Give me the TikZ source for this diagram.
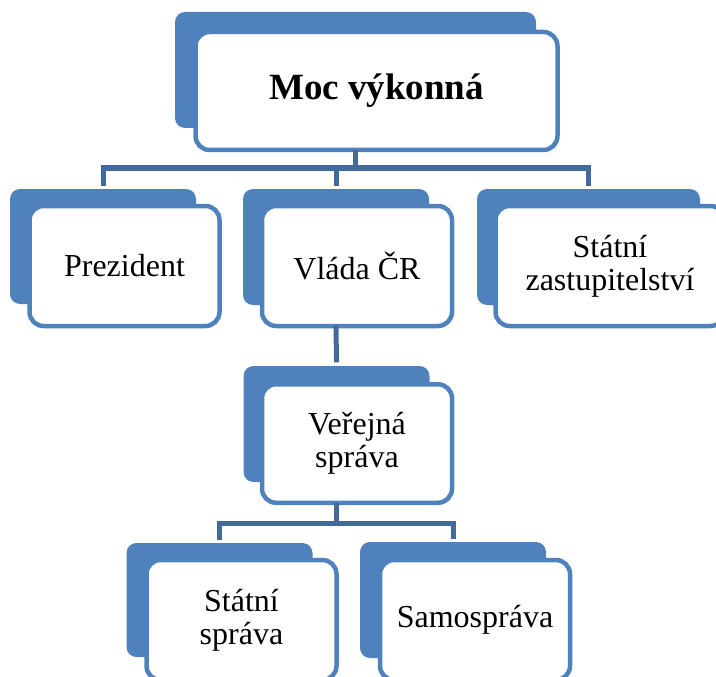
\documentclass[tikz,border=0pt]{standalone}
\usepackage{fontspec}
\setmainfont{Liberation Serif}
\definecolor{tabblue}{HTML}{4F81BD}
\definecolor{connblue}{HTML}{41699C}
\tikzset{
  tabbox/.style={fill=tabblue, draw=none, rounded corners=10pt, inner sep=0pt,
    minimum width=186pt, minimum height=116pt},
  whitebox/.style={fill=white, draw=tabblue, line width=4.5pt, rounded corners=14pt,
    inner sep=0pt, minimum width=190pt, minimum height=120pt, align=center,
    font=\fontsize{32}{33}\selectfont},
  conn/.style={draw=connblue, line width=5pt, line cap=rect}
}
\begin{document}
\begin{tikzpicture}[x=1pt,y=-1pt]
\useasboundingbox (0,0) rectangle (716,677);
\clip (0,0) rectangle (716,677);
% top
\node[tabbox, minimum width=361pt] (toptab) at (355.5,70) {};
\node[whitebox, minimum width=362pt, minimum height=118pt, font=\fontsize{37}{40}\selectfont\bfseries] (topw) at (376.5,91) {Moc výkonná};
% level 2
\node[tabbox, minimum height=115pt] (ptab) at (103,246.5) {};
\node[whitebox] (pw) at (124.5,266) {Prezident};
\node[tabbox] (vtab) at (336,247) {};
\node[whitebox] (vw) at (357,266) {Vláda ČR};
\node[tabbox, minimum width=223pt] (ztab) at (588.5,247) {};
\node[whitebox, minimum width=229pt] (zw) at (610,266) {Státní\\zastupitelství};
% level 3
\node[tabbox] (rtab) at (336.5,424) {};
\node[whitebox, minimum height=118.5pt] (rw) at (357,443.5) {Veřejná\\správa};
% level 4
\node[tabbox, minimum height=114pt] (stab) at (219.5,600) {};
\node[whitebox] (sw) at (241.5,620) {Státní\\správa};
\node[tabbox] (atab) at (453,600) {};
\node[whitebox] (aw) at (475,620) {Samospráva};
% connectors
\coordinate (bus1) at (0,168);
\coordinate (bus2) at (0,523);
\draw[conn] (toptab.center |- topw.south) -- (toptab.center |- bus1);
\draw[conn] (ptab.north |- bus1) -- (ztab.north |- bus1);
\draw[conn] (ptab.north |- bus1) -- ([yshift=5pt]ptab.north);
\draw[conn] (vtab.north |- bus1) -- ([yshift=5pt]vtab.north);
\draw[conn] (ztab.north |- bus1) -- ([yshift=5pt]ztab.north);
\draw[conn] (vtab.center |- vw.south) -- ([yshift=6pt]rtab.north);
\draw[conn] (rtab.center |- rw.south) -- (rtab.center |- bus2);
\draw[conn] (stab.north |- bus2) -- (atab.north |- bus2);
\draw[conn] (stab.north |- bus2) -- ([yshift=5pt]stab.north);
\draw[conn] (atab.north |- bus2) -- ([yshift=5pt]atab.north);
\end{tikzpicture}
\end{document}
